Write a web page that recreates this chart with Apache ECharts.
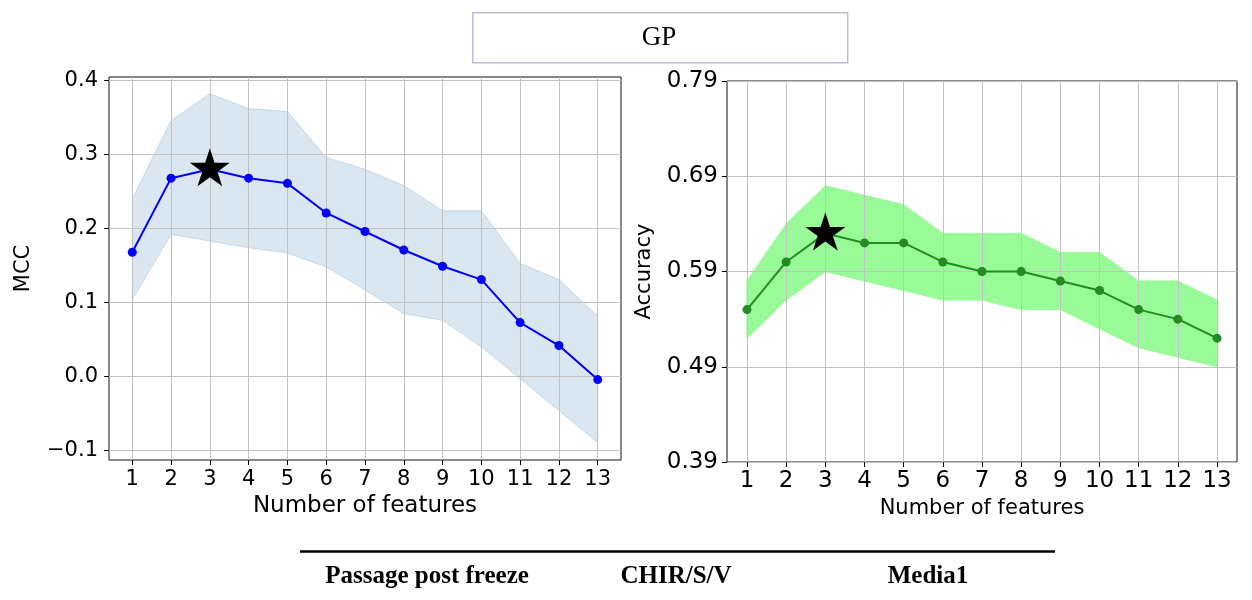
<!DOCTYPE html>
<html>
<head>
<meta charset="utf-8">
<script src="https://cdn.jsdelivr.net/npm/echarts@6/dist/echarts.min.js"></script>
<style>
  html, body { margin: 0; padding: 0; background: #fff; }
  #chart { width: 1252px; height: 600px; }
</style>
</head>
<body>
<div id="chart"></div>
<script>
// Number of selected features (x values, shared by both panels)
const features = [1, 2, 3, 4, 5, 6, 7, 8, 9, 10, 11, 12, 13];

// MCC: mean and the upper / lower edge of the shaded band
const mccMean  = [0.168, 0.268, 0.280, 0.268, 0.261, 0.221, 0.196, 0.171, 0.149, 0.131, 0.073, 0.042, -0.004];
const mccUpper = [0.240, 0.346, 0.382, 0.362, 0.358, 0.296, 0.280, 0.258, 0.224, 0.224, 0.153, 0.131, 0.082];
const mccLower = [0.104, 0.192, 0.183, 0.174, 0.167, 0.148, 0.117, 0.085, 0.076, 0.040, -0.003, -0.046, -0.089];

// Accuracy: mean and band edges
const accMean  = [0.55, 0.60, 0.63, 0.62, 0.62, 0.60, 0.59, 0.59, 0.58, 0.57, 0.55, 0.54, 0.52];
const accUpper = [0.58, 0.64, 0.68, 0.67, 0.66, 0.63, 0.63, 0.63, 0.61, 0.61, 0.58, 0.58, 0.56];
const accLower = [0.52, 0.56, 0.59, 0.58, 0.57, 0.56, 0.56, 0.55, 0.55, 0.53, 0.51, 0.50, 0.49];

// Tick values
const mccTicks = [-0.1, 0.0, 0.1, 0.2, 0.3, 0.4];
const accTicks = [0.39, 0.49, 0.59, 0.69, 0.79];

// Text
const panelTitle = 'GP';
const footerLabels = ['Passage post freeze', 'CHIR/S/V', 'Media1'];

const SANS = "'DejaVu Sans', sans-serif";
const SERIF = "'Liberation Serif', 'Times New Roman', serif";
const STAR = 'path://M0,-1 L0.2245,-0.309 L0.951,-0.309 L0.363,0.118 L0.588,0.809 L0,0.382 L-0.588,0.809 L-0.363,0.118 L-0.951,-0.309 L-0.2245,-0.309 Z';

const pairs = (xs, ys) => xs.map((x, i) => [x, ys[i]]);
const argMax = arr => arr.reduce((best, v, i) => (v > arr[best] ? i : best), 0);

// Shaded band between lower and upper edges, drawn as a single polygon
function bandSeries(idx, lower, upper, fill, stroke) {
  const rows = features.map((x, i) => [x, lower[i], upper[i]]);
  return {
    type: 'custom',
    xAxisIndex: idx, yAxisIndex: idx,
    z: -1,
    silent: true,
    data: rows,
    encode: { x: 0, y: [1, 2] },
    renderItem: (params, api) => {
      if (params.dataIndex !== 0) return null;
      const top = rows.map(r => api.coord([r[0], r[2]]));
      const bottom = rows.map(r => api.coord([r[0], r[1]])).reverse();
      return {
        type: 'polygon',
        shape: { points: top.concat(bottom) },
        style: { fill: fill, stroke: stroke, lineWidth: 1 }
      };
    }
  };
}

function meanSeries(idx, values, color, width) {
  return {
    type: 'line',
    xAxisIndex: idx, yAxisIndex: idx,
    data: pairs(features, values),
    symbol: 'circle',
    symbolSize: 9,
    showSymbol: true,
    lineStyle: { color: color, width: width },
    itemStyle: { color: color, opacity: 1 },
    z: 3
  };
}

// Best feature count, marked with a star
function starSeries(idx, values) {
  const b = argMax(values);
  return {
    type: 'scatter',
    xAxisIndex: idx, yAxisIndex: idx,
    data: [[features[b], values[b]]],
    symbol: STAR,
    symbolSize: [40, 38],
    symbolOffset: [0, -2],
    itemStyle: { color: '#000', opacity: 1 },
    z: 5
  };
}

function xAxisCfg(idx, min, max, labelSize, nameSize, nameGap, labelMargin) {
  return {
    type: 'value', gridIndex: idx, min: min, max: max,
    name: 'Number of features', nameLocation: 'middle', nameGap: nameGap,
    nameTextStyle: { fontFamily: SANS, fontSize: nameSize, color: '#000' },
    axisLine: { show: false, onZero: false },
    axisTick: { show: true, length: 5, customValues: features, lineStyle: { color: '#000', width: 1 } },
    axisLabel: { customValues: features, fontFamily: SANS, fontSize: labelSize, color: '#000', margin: labelMargin },
    splitLine: { show: true, lineStyle: { color: '#c2c2c2', width: 1 } }
  };
}

function yAxisCfg(idx, min, max, ticks, digits, labelSize, name, nameGap, labelMargin) {
  return {
    type: 'value', gridIndex: idx, min: min, max: max,
    name: name, nameLocation: 'middle', nameGap: nameGap, nameRotate: 90,
    nameTextStyle: { fontFamily: SANS, fontSize: 21, color: '#000' },
    axisLine: { show: false, onZero: false },
    axisTick: { show: true, length: 5, customValues: ticks, lineStyle: { color: '#000', width: 1 } },
    axisLabel: {
      customValues: ticks, fontFamily: SANS, fontSize: labelSize, color: '#000', margin: labelMargin,
      formatter: v => v.toFixed(digits).replace('-', '\u2212')
    },
    splitLine: { show: true, lineStyle: { color: '#c2c2c2', width: 1 } }
  };
}

const chart = echarts.init(document.getElementById('chart'), null, { renderer: 'canvas' });

chart.setOption({
  animation: false,
  backgroundColor: '#fff',
  grid: [
    { left: 109, top: 77, width: 512, height: 383, show: true, borderColor: '#111', borderWidth: 1, backgroundColor: 'transparent' },
    { left: 727, top: 81, width: 510, height: 381, show: true, borderColor: '#111', borderWidth: 1, backgroundColor: 'transparent' }
  ],
  xAxis: [
    xAxisCfg(0, 0.4, 13.6, 21, 23, 34, 9),
    xAxisCfg(1, 0.49, 13.51, 23, 21, 36, 8)
  ],
  yAxis: [
    yAxisCfg(0, -0.1126, 0.4046, mccTicks, 1, 21, 'MCC', 75, 11),
    yAxisCfg(1, 0.39, 0.79, accTicks, 2, 23, 'Accuracy', 72, 9)
  ],
  series: [
    bandSeries(0, mccLower, mccUpper, 'rgba(70,130,180,0.2)', 'rgba(70,130,180,0.22)'),
    meanSeries(0, mccMean, '#0000ff', 2),
    starSeries(0, mccMean),
    bandSeries(1, accLower, accUpper, '#98fb98', '#98fb98'),
    meanSeries(1, accMean, '#228b22', 2),
    starSeries(1, accMean)
  ],
  graphic: [
    {
      type: 'rect', left: 472, top: 12,
      shape: { width: 375, height: 50 },
      style: { fill: '#fff', stroke: '#bdbdd6', lineWidth: 1.5 }
    },
    {
      type: 'text', x: 659, y: 38,
      style: { text: panelTitle, font: '27px ' + SERIF, fill: '#000', align: 'center', verticalAlign: 'middle' }
    },
    {
      type: 'line',
      shape: { x1: 300, y1: 551.5, x2: 1055, y2: 551.5 },
      style: { stroke: '#000', lineWidth: 2.5 }
    },
    {
      type: 'text', x: 427, y: 577,
      style: { text: footerLabels[0], font: 'bold 25px ' + SERIF, fill: '#000', align: 'center', verticalAlign: 'middle' }
    },
    {
      type: 'text', x: 676, y: 577,
      style: { text: footerLabels[1], font: 'bold 25px ' + SERIF, fill: '#000', align: 'center', verticalAlign: 'middle' }
    },
    {
      type: 'text', x: 928, y: 577,
      style: { text: footerLabels[2], font: 'bold 25px ' + SERIF, fill: '#000', align: 'center', verticalAlign: 'middle' }
    }
  ]
});
</script>
</body>
</html>
